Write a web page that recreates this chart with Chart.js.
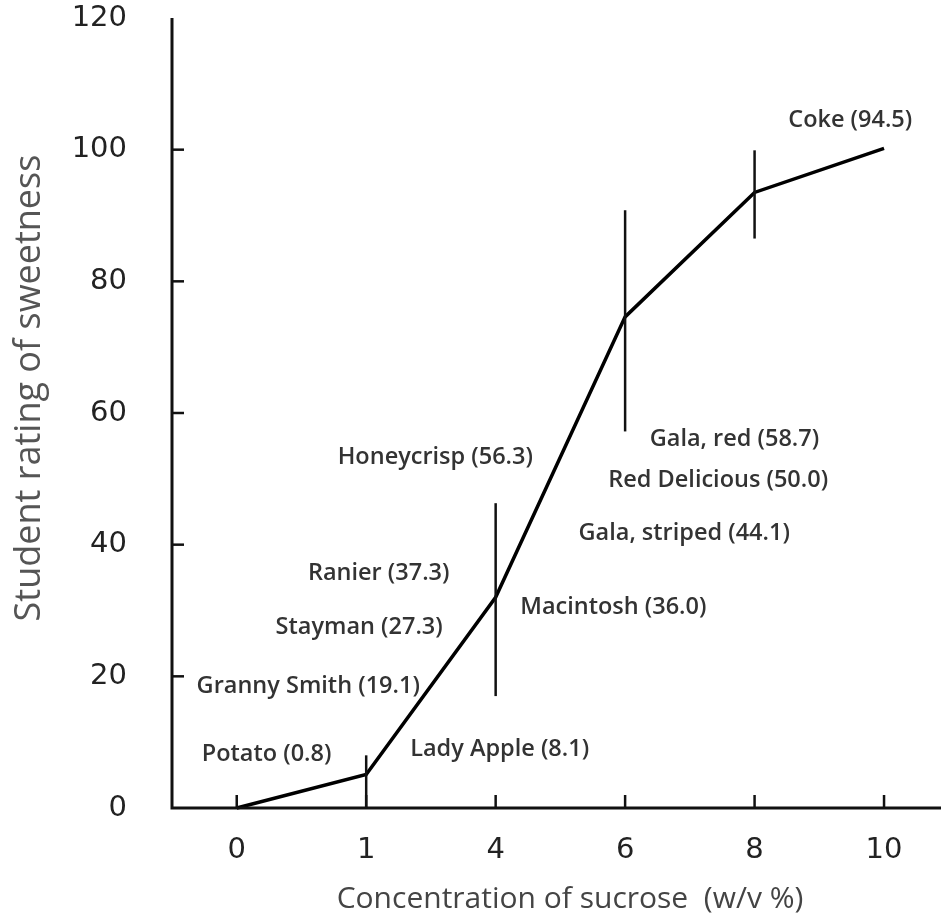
<!DOCTYPE html>
<html>
<head>
<meta charset="utf-8">
<script src="https://cdn.jsdelivr.net/npm/chart.js@4.4.1/dist/chart.umd.min.js"></script>
<style>
  html, body { margin: 0; padding: 0; background: #fff; }
  #wrap { width: 941px; height: 923px; }
</style>
</head>
<body>
<div id="wrap"><canvas id="sweetChart"></canvas></div>
<script>
// data
const concentrations = ['0', '1', '4', '6', '8', '10'];
const sweetness = [0, 5.1, 32.0, 74.6, 93.5, 100.2];
const errLow = [null, 0, 17.0, 57.2, 86.5, null];
const errHigh = [null, 8.0, 46.3, 90.8, 99.9, null];
const yTicks = [0, 20, 40, 60, 80, 100, 120];
const sampleNames = [
  'Coke (94.5)', 'Gala, red (58.7)', 'Red Delicious (50.0)', 'Gala, striped (44.1)',
  'Macintosh (36.0)', 'Lady Apple (8.1)', 'Honeycrisp (56.3)', 'Ranier (37.3)',
  'Stayman (27.3)', 'Granny Smith (19.1)', 'Potato (0.8)'
];

// where each sample note sits (x in category steps, y in rating units)
const noteX = [4.26, 3.19, 2.87, 2.64, 2.19, 1.34, 0.78, 0.55, 0.30, -0.31, -0.27];
const noteY = [104.5, 56.0, 49.8, 41.8, 30.5, 8.9, 53.2, 35.7, 27.4, 18.5, 8.2];

const errorBars = {
  id: 'errorBars',
  afterDatasetsDraw(chart) {
    const { ctx, scales: { x, y } } = chart;
    ctx.save();
    ctx.strokeStyle = '#111';
    ctx.lineWidth = 2.5;
    errLow.forEach((lo, i) => {
      if (lo === null) return;
      const px = x.getPixelForValue(i);
      ctx.beginPath();
      ctx.moveTo(px, y.getPixelForValue(lo));
      ctx.lineTo(px, y.getPixelForValue(errHigh[i]));
      ctx.stroke();
    });
    ctx.restore();
  }
};

// axis lines with inward tick marks, like the original figure
const axesFrame = {
  id: 'axesFrame',
  afterDraw(chart) {
    const { ctx, chartArea, scales: { x, y } } = chart;
    const bottom = y.getPixelForValue(0);
    ctx.save();
    ctx.strokeStyle = '#111';
    ctx.lineWidth = 3;
    ctx.beginPath();
    ctx.moveTo(chartArea.left, y.getPixelForValue(120));
    ctx.lineTo(chartArea.left, bottom);
    ctx.lineTo(chartArea.right, bottom);
    ctx.stroke();
    ctx.lineWidth = 2.5;
    yTicks.forEach(v => {
      if (v === 0 || v === 120) return;
      const py = y.getPixelForValue(v);
      ctx.beginPath();
      ctx.moveTo(chartArea.left, py);
      ctx.lineTo(chartArea.left + 12, py);
      ctx.stroke();
    });
    concentrations.forEach((c, i) => {
      const px = x.getPixelForValue(i);
      ctx.beginPath();
      ctx.moveTo(px, bottom);
      ctx.lineTo(px, bottom - 13);
      ctx.stroke();
    });

    // axis titles sit a little off-centre in the original
    ctx.textAlign = 'center';
    ctx.textBaseline = 'middle';
    ctx.fillStyle = '#444';
    ctx.font = '30px "Open Sans"';
    ctx.fillText('Concentration of sucrose  (w/v %)', 570, 899);
    ctx.fillStyle = '#555';
    ctx.font = '36px "Open Sans"';
    ctx.translate(30, 388);
    ctx.rotate(-Math.PI / 2);
    ctx.fillText('Student rating of sweetness', 0, 0);
    ctx.restore();
  }
};

const sampleNotes = {
  id: 'sampleNotes',
  afterDraw(chart) {
    const { ctx, scales: { x, y } } = chart;
    ctx.save();
    ctx.font = '600 23.5px "Open Sans"';
    ctx.fillStyle = '#333';
    ctx.textAlign = 'left';
    ctx.textBaseline = 'middle';
    sampleNames.forEach((name, i) => {
      ctx.fillText(name, x.getPixelForValue(noteX[i]), y.getPixelForValue(noteY[i]));
    });
    ctx.restore();
  }
};

const ctx = document.getElementById('sweetChart').getContext('2d');

new Chart(ctx, {
  type: 'line',
  data: {
    datasets: [{
      data: sweetness.map((v, i) => ({ x: i, y: v })),
      borderColor: '#000',
      borderWidth: 3.5,
      pointRadius: 0,
      tension: 0,
      clip: false
    }]
  },
  options: {
    responsive: true,
    maintainAspectRatio: false,
    animation: false,
    layout: { padding: { top: 18, right: 0, left: 0, bottom: 0 } },
    scales: {
      x: {
        type: 'linear',
        min: -0.5,
        max: 5.44,
        afterBuildTicks: axis => { axis.ticks = concentrations.map((c, i) => ({ value: i })); },
        afterFit: scale => { scale.height = 115; scale.paddingLeft = 0; scale.paddingRight = 0; },
        grid: { display: false, drawTicks: false },
        border: { display: false },
        ticks: {
          padding: 25,
          color: '#222',
          font: { family: 'DejaVu Sans', size: 29 },
          callback: v => concentrations[v]
        }
      },
      y: {
        min: 0,
        max: 120,
        afterBuildTicks: axis => { axis.ticks = yTicks.map(v => ({ value: v })); },
        afterFit: scale => { scale.width = 172; scale.paddingTop = 14; scale.paddingBottom = 14; },
        grid: { display: false, drawTicks: false },
        border: { display: false },
        ticks: {
          padding: 45,
          color: '#222',
          font: { family: 'DejaVu Sans', size: 29 }
        }
      }
    },
    plugins: {
      legend: { display: false },
      tooltip: { enabled: false }
    }
  },
  plugins: [errorBars, axesFrame, sampleNotes]
});
</script>
</body>
</html>
